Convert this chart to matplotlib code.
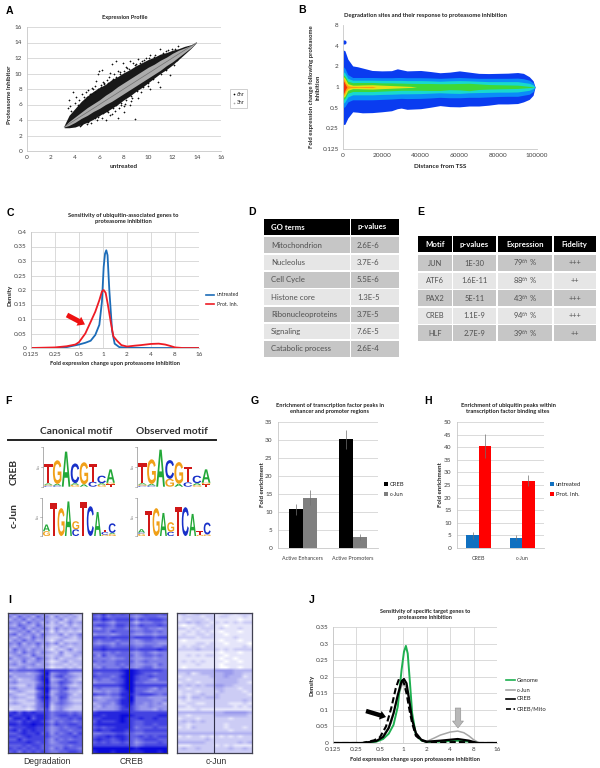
import numpy as np
import matplotlib
matplotlib.use("Agg")
import matplotlib.pyplot as plt
from matplotlib.colors import LinearSegmentedColormap
from matplotlib.patches import Rectangle, PathPatch, FancyArrow
from matplotlib.textpath import TextPath
from matplotlib.font_manager import FontProperties
from matplotlib.transforms import Affine2D

plt.rcParams['font.family'] = ['Lato', 'DejaVu Sans']

# A: expression scatter
a_band_x = [3.1, 3.5, 4, 4.5, 5, 5.5, 6, 6.5, 7, 7.5, 8, 8.5, 9, 9.5, 10, 10.5, 11, 11.5, 12, 12.5, 13, 13.5, 14]
a_black_up = [3.3, 4.6, 5.5, 6.4, 7.1, 7.7, 8.2, 8.6, 9.2, 9.6, 10.1, 10.5, 11.0, 11.4, 11.8, 12.1, 12.5, 12.7, 13.0, 13.2, 13.5, 13.7, 14]
a_black_lo = [3.0, 3.0, 3.1, 3.4, 3.7, 4.1, 4.6, 5.0, 5.5, 6.0, 6.6, 7.1, 7.7, 8.2, 8.8, 9.4, 10.0, 10.5, 11.1, 11.8, 12.5, 13.2, 14]
a_grey_up = [3.2, 3.8, 4.4, 5.0, 5.6, 6.1, 6.6, 7.2, 7.7, 8.3, 8.8, 9.3, 9.8, 10.3, 10.8, 11.2, 11.7, 12.1, 12.6, 13.0, 13.3, 13.6, 14]
a_grey_lo = [3.1, 3.3, 3.7, 4.2, 4.6, 5.1, 5.5, 6.0, 6.4, 6.9, 7.4, 7.9, 8.4, 8.9, 9.4, 9.9, 10.4, 11.0, 11.5, 12.1, 12.7, 13.3, 14]
a_out_x = [3.4, 3.5, 3.8, 4.1, 4.3, 4.6, 4.9, 5.1, 5.4, 5.6, 5.7, 5.9, 6.0, 6.2, 6.3, 6.6, 6.9, 7.0, 7.4, 7.5, 7.9, 8.2, 8.5,
           8.8, 9.2, 9.8, 10.2, 10.5, 11.0, 11.5, 12.0, 12.5, 4.4, 5.0, 5.8, 6.2, 6.5, 7.0, 7.5, 8.0, 8.9, 8.5, 8.0, 9.2,
           10.2, 11.0, 10.8, 11.8, 4.7, 5.2, 5.5, 6.1, 6.4, 6.8, 7.2, 7.7, 8.3, 9.0, 9.5, 5.3, 5.9, 6.7, 7.3, 7.8, 8.6,
           9.4, 10.0, 4.2, 3.7, 3.6, 4.0, 4.5, 6.9, 7.6, 8.1, 8.7,
           4.8, 5.0, 5.3, 5.6, 5.9, 6.1, 6.4, 6.7, 7.1, 7.4, 7.7, 8.0, 8.4, 8.9, 9.3, 9.7, 10.1, 10.6, 11.2, 11.6, 12.2,
           4.6, 5.1, 5.6, 6.0, 6.3, 6.6, 7.1, 7.4, 7.8, 8.2, 8.6, 9.1, 9.6, 10.0, 10.4, 11.1, 11.5, 12.1, 12.4]
a_out_y = [5.5, 6.6, 7.6, 7.0, 6.6, 7.3, 7.6, 7.9, 8.1, 8.4, 9.0, 9.9, 10.3, 10.5, 8.9, 9.2, 10.1, 11.2, 11.6, 10.3, 11.4, 10.9, 11.6,
           11.4, 11.9, 12.0, 12.4, 12.1, 13.2, 12.9, 13.2, 13.5, 3.2, 3.5, 4.0, 4.3, 4.0, 4.8, 4.2, 5.0, 4.1, 6.0, 5.8, 6.8,
           8.0, 8.3, 8.9, 9.8, 7.0, 7.3, 8.0, 8.5, 8.8, 9.5, 10.0, 10.2, 10.7, 11.2, 11.6, 3.6, 4.4, 5.0, 5.2, 5.9, 6.4,
           7.6, 8.4, 5.9, 5.2, 5.8, 6.2, 3.3, 4.6, 5.6, 6.1, 6.9,
           6.6, 7.0, 7.4, 7.6, 8.0, 8.2, 8.6, 8.8, 9.3, 9.6, 10.0, 10.3, 10.6, 11.1, 11.4, 11.8, 12.0, 12.4, 12.7, 13.0, 13.2,
           3.5, 3.8, 4.2, 4.7, 4.9, 5.1, 5.6, 5.9, 6.2, 6.6, 7.1, 7.7, 8.2, 8.8, 9.3, 10.0, 10.4, 11.1, 11.7]

# B: nested density envelopes, log2 fold change against distance
b_x = [0, 1000, 2500, 5000, 7500, 10000, 15000, 20000, 25000, 28000, 30000, 33000, 40000, 45000, 50000, 55000, 60000, 65000,
       70000, 75000, 80000, 85000, 90000, 93000, 96000, 98000, 99000]
b_blue_up = [1.8, 1.75, 1.35, 1.02, 0.98, 0.92, 0.8, 0.78, 0.79, 0.88, 0.84, 0.78, 0.8, 0.75, 0.69, 0.72, 0.78, 0.72, 0.66, 0.65, 0.66,
             0.67, 0.7, 0.66, 0.5, 0.3, 0]
b_blue_lo = [-1.82, -1.8, -1.5, -1.2, -1.22, -1.25, -1.24, -1.2, -1.15, -1.05, -1.02, -1.08, -1.05, -0.98, -0.9, -0.95, -0.96, -0.92,
             -0.92, -0.88, -0.82, -0.82, -0.8, -0.72, -0.6, -0.4, 0]
b_azure_up = [1.0, 0.9, 0.6, 0.46, 0.46, 0.46, 0.46, 0.45, 0.45, 0.46, 0.46, 0.45, 0.45, 0.44, 0.42, 0.44, 0.46, 0.44, 0.42, 0.42, 0.42,
              0.42, 0.43, 0.4, 0.33, 0.2, 0]
b_azure_lo = [-1.0, -0.95, -0.72, -0.62, -0.62, -0.62, -0.62, -0.6, -0.58, -0.56, -0.55, -0.56, -0.55, -0.53, -0.5, -0.52, -0.52, -0.5,
              -0.5, -0.48, -0.46, -0.45, -0.45, -0.4, -0.35, -0.22, 0]
b_cyan_up = [0.75, 0.68, 0.42, 0.33, 0.33, 0.33, 0.33, 0.32, 0.32, 0.32, 0.32, 0.31, 0.31, 0.3, 0.28, 0.3, 0.31, 0.3, 0.28, 0.26, 0.26,
             0.26, 0.26, 0.22, 0.18, 0.1, 0]
b_cyan_lo = [-0.8, -0.72, -0.48, -0.38, -0.38, -0.38, -0.38, -0.36, -0.35, -0.34, -0.33, -0.33, -0.32, -0.3, -0.28, -0.3, -0.31, -0.28,
             -0.27, -0.26, -0.25, -0.25, -0.24, -0.2, -0.16, -0.08, 0]
b_green_up = [0.6, 0.52, 0.28, 0.21, 0.22, 0.22, 0.22, 0.2, 0.2, 0.19, 0.19, 0.18, 0.17, 0.17, 0.16, 0.16, 0.17, 0.18, 0.15, 0.12, 0.11,
              0.1, 0.09, 0.06, 0.03, 0.01, 0]
b_green_lo = [-0.62, -0.55, -0.3, -0.22, -0.22, -0.22, -0.22, -0.2, -0.18, -0.17, -0.16, -0.16, -0.16, -0.17, -0.17, -0.13, -0.14, -0.18,
              -0.12, -0.1, -0.09, -0.08, -0.07, -0.05, -0.03, -0.01, 0]
b_yellow_x = [0, 1000, 2500, 5000, 7500, 10000, 15000, 20000, 25000, 30000, 35000, 38000]
b_yellow_up = [0.52, 0.42, 0.16, 0.09, 0.09, 0.1, 0.11, 0.09, 0.07, 0.05, 0.03, 0]
b_yellow_lo = [-0.52, -0.44, -0.16, -0.08, -0.08, -0.09, -0.1, -0.08, -0.06, -0.04, -0.02, 0]
b_orange_x = [0, 800, 1500, 2500, 4000, 8000, 15000, 17000]
b_orange_up = [0.45, 0.33, 0.18, 0.07, 0.03, 0.02, 0.03, 0]
b_orange_lo = [-0.45, -0.35, -0.18, -0.07, -0.03, -0.02, -0.03, 0]
b_red_x = [0, 500, 1000, 1500, 2000]
b_red_up = [0.32, 0.26, 0.16, 0.07, 0]
b_red_lo = [-0.34, -0.28, -0.16, -0.07, 0]

# C and J density curves
fold_ticks = [0.125, 0.25, 0.5, 1, 2, 4, 8, 16]
fold_labels = ['0.125', '0.25', '0.5', '1', '2', '4', '8', '16']
c_blue_x = [0.125, 0.25, 0.35, 0.5, 0.6, 0.7, 0.8, 0.9, 0.97, 1.02, 1.06, 1.1, 1.14, 1.2, 1.3, 1.4, 1.6, 2, 4, 16]
c_blue_y = [0, 0, 0.003, 0.012, 0.018, 0.025, 0.045, 0.08, 0.16, 0.28, 0.325, 0.337, 0.32, 0.2, 0.06, 0.015, 0.003, 0.001, 0, 0]
c_red_x = [0.125, 0.25, 0.35, 0.45, 0.5, 0.6, 0.7, 0.8, 0.9, 0.97, 1.02, 1.08, 1.15, 1.25, 1.35, 1.5, 1.7, 2, 2.5, 3, 4, 5, 6, 7, 8, 10, 16]
c_red_y = [0, 0.002, 0.006, 0.012, 0.02, 0.05, 0.09, 0.125, 0.165, 0.195, 0.2, 0.19, 0.15, 0.09, 0.04, 0.025, 0.01, 0.005, 0.008, 0.01,
           0.014, 0.015, 0.012, 0.007, 0.002, 0, 0]
j_green_x = [0.125, 0.3, 0.45, 0.55, 0.65, 0.75, 0.85, 0.95, 1.02, 1.08, 1.14, 1.22, 1.3, 1.45, 1.7, 2, 3, 5, 7, 9, 16]
j_green_y = [0, 0, 0.004, 0.012, 0.028, 0.055, 0.11, 0.22, 0.275, 0.293, 0.27, 0.18, 0.09, 0.025, 0.008, 0.003, 0.004, 0.007, 0.004, 0, 0]
j_grey_x = [0.125, 0.3, 0.5, 0.7, 0.85, 1, 1.15, 1.3, 1.5, 1.7, 2, 2.5, 3, 4, 5, 6, 7, 8, 9.5, 16]
j_grey_y = [0, 0, 0.008, 0.06, 0.14, 0.185, 0.15, 0.07, 0.02, 0.008, 0.005, 0.015, 0.024, 0.033, 0.036, 0.031, 0.021, 0.01, 0, 0]
j_black_x = [0.125, 0.3, 0.45, 0.55, 0.65, 0.75, 0.85, 0.95, 1.02, 1.1, 1.2, 1.3, 1.45, 1.7, 2, 3, 5, 7, 9, 16]
j_black_y = [0, 0, 0.006, 0.018, 0.045, 0.09, 0.145, 0.185, 0.193, 0.18, 0.125, 0.07, 0.03, 0.01, 0.004, 0.007, 0.012, 0.007, 0, 0]
j_dash_x = [0.125, 0.3, 0.42, 0.5, 0.6, 0.7, 0.8, 0.88, 0.95, 1.02, 1.1, 1.2, 1.3, 1.45, 1.7, 2, 3, 5, 7, 9, 16]
j_dash_y = [0, 0, 0.008, 0.017, 0.05, 0.105, 0.165, 0.193, 0.192, 0.18, 0.15, 0.1, 0.06, 0.022, 0.008, 0.003, 0.002, 0.003, 0.002, 0, 0]

# D and E tables
go_terms = ['Mitochondrion', 'Nucleolus', 'Cell Cycle', 'Histone core', 'Ribonucleoproteins', 'Signaling', 'Catabolic process']
go_pvals = ['2.6E-6', '3.7E-6', '5.5E-6', '1.3E-5', '3.7E-5', '7.6E-5', '2.6E-4']
motif_names = ['JUN', 'ATF6', 'PAX2', 'CREB', 'HLF']
motif_pvals = ['1E-30', '1.6E-11', '5E-11', '1.1E-9', '2.7E-9']
motif_expr = ['79$^{th}$ %', '88$^{th}$ %', '43$^{th}$ %', '94$^{th}$ %', '39$^{th}$ %']
motif_fidelity = ['+++', '++', '+++', '+++', '++']

# F sequence logos, one stack per position, bottom letter first, heights in bits
creb_canon = [[('C', .05), ('G', .05), ('A', .07), ('T', 1.0)], [('C', .06), ('A', .08), ('G', 1.2)], [('A', 1.78)],
              [('G', .1), ('A', .08), ('C', 1.0)], [('A', .12), ('G', 1.12)], [('C', .25), ('T', .9)], [('G', .1), ('A', .08), ('C', .38)],
              [('T', .12), ('G', .08), ('A', .68)]]
creb_obs = [[('C', .05), ('G', .06), ('A', .07), ('T', 1.0)], [('C', .06), ('A', .08), ('G', 1.25)], [('A', 1.88)],
            [('G', .4), ('C', .95)], [('A', .15), ('G', 1.1)], [('C', .22), ('T', .8)], [('G', .08), ('A', .1), ('C', .38)],
            [('T', .12), ('G', .08), ('A', .68)]]
jun_canon = [[('G', .25), ('A', .35)], [('T', 1.7)], [('G', 1.45)], [('A', 1.8)], [('C', .35), ('G', .42)], [('T', 1.75)], [('C', 1.55)],
             [('A', 1.25)], [('G', .07), ('C', .14), ('T', .1)], [('G', .1), ('A', .06), ('C', .5)]]
jun_obs = [[('G', .12), ('C', .06), ('A', .18)], [('T', 1.32)], [('G', 1.45)], [('A', 1.2)], [('C', .22), ('G', .5)], [('T', 1.5)], [('C', 1.5)],
           [('A', 1.15)], [('G', .06), ('T', .2)], [('G', .08), ('C', .62)]]

# G and H bars
g_cats = ['Active Enhancers', 'Active Promoters']
g_creb = [10.8, 30.2]
g_creb_err = [1.5, 2.7]
g_jun = [14.0, 3.0]
g_jun_err = [2.0, 0.8]
h_cats = ['CREB', 'c-Jun']
h_untreated = [5.0, 4.0]
h_untreated_err = [1.3, 1.0]
h_prot = [40.5, 26.7]
h_prot_err = [4.7, 2.2]

# I heatmaps, each digit a shade from 0 (white) to 9 (full blue)
deg_rows = ['4635463534243523', '5364536452534342', '3546354543352432', '5453645352423534', '4365436432342423', '5546354552534343',
            '3454635341423232', '5635453643352435', '4354364532234324', '3546453431342223', '5463546453524343', '4354435342243233',
            '3645354431323523', '4536453543252334', '3454364432342243', '5345436542423332', '3436345431234233', '4534453442332323',
            '3345344431223232', '6566667887777666', '3444345794566433', '5344446884675543', '3423346893456432', '4533335794576534',
            '3322436784465323', '4533337895567443', '2343225793465332', '4322336783566423', '3433226894476333', '2322335784465322',
            '3432225683565433', '2223235682454322', '1222125572453222', '7868787775666565', '8778878875677676', '6887968875566767',
            '7768788764656656', '8878898875766776', '6777887764565667', '7868787764566566', '6678778674656757', '7767877775566676',
            '6686777764656566', '7777876764566776', '6667677665556566', '7676767664657665', '6757676765566776']
creb_rows = ['7686767665676667', '6575666654566655', '7687677775767776', '5565466653555665', '6776577665766676', '5465566554565545',
             '6665766665566565', '4555456654455455', '7776777767777677', '6566656654566555', '5455465554455544', '6676566665566556',
             '7787777776777787', '5565656654565455', '6475566664566565', '5555455654455455', '6565566664565555', '4555565654455465',
             '5465556554566455', '7777778998777776', '6566667998766566', '7666568997667666', '5655667997665466', '4555567996655555',
             '7777778997777777', '5655557996665465', '4454557896654555', '7665668886777656', '4344557895554444', '5445568895555445',
             '3455468885545453', '4354457875445444', '3444457775444354', '7888888877777777', '8878889987777788', '7788889877877877',
             '6877789876677777', '7888888876677677', '6767788875666766', '7877888776677777', '5566677665566666', '6778788766767677',
             '7877678765677766', '6767667664566676', '7777777765677777', '9999999998999999', '8999899988899989']
jun_rows = ['2312322211221222', '1222212212211121', '1212221211111011', '2232322121212122', '1011221211011111', '2212122212111211',
            '1121212110111011', '1211221211011111', '2222122211112111', '1011111110111011', '1111221211011110', '1212212211111121',
            '2222322221212222', '1111111110111011', '1121212211011111', '1111111110110111', '1212121111011011', '1111211110111111',
            '1011111110011011', '3333333344443333', '2231233333443322', '1222222333433312', '2212222233333222', '1222122233333221',
            '3232323344332222', '2212222233222122', '1222122223222212', '1212232232222221', '2313323332222222', '1212222222222232',
            '1122112222211121', '2212222222221212', '1111211111111111', '3333333333444443', '2212222233333332', '1222122222212222',
            '2323232222222222', '2212222222122222', '1213222222122212', '2222222222212222', '3333333333333333', '1212212121212122',
            '2222223222222222', '3333332222222323', '1112222212121111', '2322322222232232', '2222222222222222']
heat_titles = ['Degradation', 'CREB', 'c-Jun']

fig = plt.figure(figsize=(6, 7.68), dpi=100)
W, H = 600.0, 768.0
grey_txt = '#404040'


def px_axes(x0, y0, x1, y1):
    # axes from pixel box, y counted from the top of the image
    return fig.add_axes([x0 / W, 1 - y1 / H, (x1 - x0) / W, (y1 - y0) / H])


def style(ax, vgrid=False, lab=4.6, pad=3):
    for s in ['top', 'right']:
        ax.spines[s].set_visible(False)
    for s in ['left', 'bottom']:
        ax.spines[s].set_color('#c8c8c8')
        ax.spines[s].set_linewidth(0.6)
    ax.tick_params(length=0, labelsize=lab, labelcolor=grey_txt, pad=pad)
    ax.grid(axis='y', color='#d4d4d4', lw=0.6)
    if vgrid:
        ax.grid(axis='x', color='#d4d4d4', lw=0.6)
    ax.set_axisbelow(True)


ov = fig.add_axes([0, 0, 1, 1], zorder=20)
ov.set_xlim(0, W)
ov.set_ylim(H, 0)
ov.axis('off')
ov.patch.set_alpha(0)


def txt(x, y, s, size=4.6, weight='normal', color='#222222', rot=0, ha='center', fam=None):
    ov.text(x, y, s, fontsize=size, fontweight=weight, color=color, rotation=rot, ha=ha, va='center',
            family=fam if fam else ['Lato', 'DejaVu Sans'], linespacing=1.25)


# panel letters
letters = ['A', 'B', 'C', 'D', 'E', 'F', 'G', 'H', 'I', 'J']
letter_x = [10, 302, 10, 252, 421, 8, 255, 428, 10, 312]
letter_y = [11, 10, 213, 212, 212, 401, 401, 401, 600, 600]
for l, lx, ly in zip(letters, letter_x, letter_y):
    txt(lx, ly, l, size=7.6, weight='bold', color='black', fam=['Liberation Sans'])

# A
ax = px_axes(26.5, 27, 221, 151)
style(ax)
ax.fill_between(a_band_x, a_black_lo, a_black_up, color='#181818', lw=0)
ax.fill_between(a_band_x, a_grey_lo, a_grey_up, color='#ababab', lw=0)
ax.plot([3.1, 14], [3.1, 14], color='#707070', lw=0.5)
ax.scatter(a_out_x, a_out_y, s=1.2, marker='D', color='#111111', lw=0)
ax.set_xlim(0, 16)
ax.set_ylim(0, 16)
ax.set_xticks(range(0, 17, 2))
ax.set_yticks(range(0, 17, 2))
txt(125, 18, 'Expression Profile', weight='bold', size=4.1)
txt(124, 167, 'untreated', weight='bold', size=4.6)
txt(10, 95, 'Proteasome Inhibitor', weight='bold', rot=90, size=4.4)
ov.add_patch(Rectangle((229.5, 89), 17.5, 19, fc='white', ec='#c8c8c8', lw=0.6))
ov.scatter([234], [94], s=1.5, color='black', lw=0)
ov.scatter([234], [103], s=1.5, color='#a8a8a8', lw=0)
txt(236.5, 94, '6hr', size=3.6, ha='left')
txt(236.5, 103, '3hr', size=3.6, ha='left')

# B
ax = px_axes(343, 25, 537, 149)
ax.fill_between(b_x, b_blue_lo, b_blue_up, color='#0a3cf0', lw=0)
ax.fill_between(b_x, b_azure_lo, b_azure_up, color='#0a8cf8', lw=0)
ax.fill_between(b_x, b_cyan_lo, b_cyan_up, color='#18d8d0', lw=0)
ax.fill_between(b_x, b_green_lo, b_green_up, color='#3ed838', lw=0)
ax.fill_between(b_yellow_x, b_yellow_lo, b_yellow_up, color='#e8e018', lw=0)
ax.fill_between(b_orange_x, b_orange_lo, b_orange_up, color='#ff9a10', lw=0)
ax.fill_between(b_red_x, b_red_lo, b_red_up, color='#f03010', lw=0)
ax.scatter([600], [2.2], s=9, color='#0a3cf0', lw=0)
ax.set_xlim(0, 100000)
ax.set_ylim(-3, 3)
ax.set_yticks([-3, -2, -1, 0, 1, 2, 3])
ax.set_yticklabels(['0.125', '0.25', '0.5', '1', '2', '4', '8'])
ax.set_xticks(range(0, 100001, 20000))
style(ax)
ax.grid(False)
txt(426, 16, 'Degradation sites and their response to proteasome inhibition', weight='bold', size=4.2)
txt(440, 166, 'Distance from TSS', weight='bold', size=4.6)
txt(315, 87, 'Fold expression change following proteasome\ninhibition', weight='bold', rot=90, size=4.3)


def fold_axis(ax):
    ax.set_xscale('log', base=2)
    ax.set_xlim(0.125, 16)
    ax.set_xticks(fold_ticks)
    ax.set_xticklabels(fold_labels)
    ax.minorticks_off()
    style(ax, vgrid=True)


# C
ax = px_axes(31, 232, 199, 348)
ax.plot(c_blue_x, c_blue_y, color='#1c6cb8', lw=1.3)
ax.plot(c_red_x, c_red_y, color='#ee1c25', lw=1.3)
fold_axis(ax)
ax.set_ylim(0, 0.4)
ax.set_yticks(np.arange(0, 0.41, 0.05))
ax.set_yticklabels(['0', '0.05', '0.1', '0.15', '0.2', '0.25', '0.3', '0.35', '0.4'])
txt(123, 218, 'Sensitivity of ubiquitin-associated genes to\nproteasome inhibition', weight='bold', size=4.15)
txt(115, 364, 'Fold expression change upon proteasome inhibition', weight='bold', size=4.1)
txt(10, 295, 'Density', weight='bold', rot=90, size=4.4)
ov.plot([206, 214], [294.5, 294.5], color='#1c6cb8', lw=1.2)
ov.plot([206, 214], [304, 304], color='#ee1c25', lw=1.2)
txt(217, 294.5, 'untreated', size=3.7, ha='left')
txt(217, 304, 'Prot. Inh.', size=3.7, ha='left')
ov.add_patch(FancyArrow(67, 315, 18, 9.5, width=5, head_width=10, head_length=7, length_includes_head=True, color='#ee1111', lw=0))

# D
d_cols = [(264, 349.5), (351, 399)]
ov.add_patch(Rectangle((264, 219), 85.5, 15.5, fc='black', lw=0))
ov.add_patch(Rectangle((351, 219), 48, 15.5, fc='black', lw=0))
txt(271, 227, 'GO terms', size=5.6, weight='bold', color='white', ha='left')
txt(357, 227, 'p-values', size=5.6, weight='bold', color='white', ha='left')
for i, (term, pv) in enumerate(zip(go_terms, go_pvals)):
    top = 237.3 + i * 17.3
    shade = '#c6c6c6' if i % 2 == 0 else '#e6e6e6'
    for c0, c1 in d_cols:
        ov.add_patch(Rectangle((c0, top), c1 - c0, 15.6, fc=shade, lw=0))
    txt(271, top + 7.8, term, size=5.6, ha='left', color='#505050')
    txt(357, top + 7.8, pv, size=5.6, ha='left', color='#505050')

# E
e_cols = [(418, 451.5), (453, 496), (497.5, 552), (553.5, 596)]
e_heads = ['Motif', 'p-values', 'Expression', 'Fidelity']
for (c0, c1), head in zip(e_cols, e_heads):
    ov.add_patch(Rectangle((c0, 236), c1 - c0, 16, fc='black', lw=0))
    txt((c0 + c1) / 2, 244.5, head, size=5.6, weight='bold', color='white')
for i, row in enumerate(zip(motif_names, motif_pvals, motif_expr, motif_fidelity)):
    top = 255 + i * 17.6
    shade = '#c6c6c6' if i % 2 == 0 else '#e6e6e6'
    for (c0, c1), val in zip(e_cols, row):
        ov.add_patch(Rectangle((c0, top), c1 - c0, 16, fc=shade, lw=0))
        txt((c0 + c1) / 2, top + 8, val, size=5.4, color='#505050')

# F
logo_colors = {'A': '#22a838', 'C': '#1830c8', 'G': '#f0a018', 'T': '#d01818'}
logo_font = FontProperties(family='Liberation Sans', weight='bold')


def draw_logo(stacks, x0, width, base_y, px_per_bit):
    for k, stack in enumerate(stacks):
        bottom = base_y
        for letter, bits in stack:
            tp = TextPath((0, 0), letter, size=10, prop=logo_font)
            bb = tp.get_extents()
            h = bits * px_per_bit
            # y axis of the overlay is flipped, so scale y negative
            tr = Affine2D().translate(-bb.x0, -bb.y0).scale(width * 0.96 / bb.width, -h / bb.height).translate(x0 + k * width, bottom)
            ov.add_patch(PathPatch(tp.transformed(tr), fc=logo_colors[letter], lw=0))
            bottom -= h
    ax_x = x0 - 1.5
    ov.plot([ax_x, ax_x], [base_y, base_y - 2 * px_per_bit], color='#909090', lw=0.5)
    for b in [0, 1, 2]:
        ov.plot([ax_x - 1.5, ax_x], [base_y - b * px_per_bit] * 2, color='#909090', lw=0.4)
    txt(ax_x - 3.5, base_y - px_per_bit, 'bits', size=2.2, rot=90, color='#707070')


txt(76, 431, 'Canonical motif', size=7.4, weight='bold', color='#303030')
txt(172, 431, 'Observed motif', size=7.4, weight='bold', color='#303030')
ov.plot([8, 216], [440, 440], color='#222222', lw=1.4)
txt(14, 472, 'CREB', size=7.4, weight='bold', rot=90, color='#303030')
txt(14, 515, 'c-Jun', size=7.4, weight='bold', rot=90, color='#303030')
draw_logo(creb_canon, 44, 8.9, 486.7, 19.7)
draw_logo(creb_obs, 138, 9.1, 486.7, 19.7)
draw_logo(jun_canon, 43, 7.3, 536, 19.2)
draw_logo(jun_obs, 138, 7.3, 536, 19.2)

# G
ax = px_axes(278, 422, 378, 548)
pos = np.arange(2)
ax.bar(pos - 0.14, g_creb, 0.28, color='black', yerr=g_creb_err, error_kw=dict(ecolor='#707070', lw=0.5))
ax.bar(pos + 0.14, g_jun, 0.28, color='#7f7f7f', yerr=g_jun_err, error_kw=dict(ecolor='#707070', lw=0.5))
ax.set_xlim(-0.5, 1.5)
ax.set_ylim(0, 35)
ax.set_yticks(range(0, 36, 5))
ax.set_xticks(pos)
ax.set_xticklabels(g_cats)
style(ax, pad=4)
ax.tick_params(axis='x', labelsize=3.9, pad=6)
txt(330, 409, 'Enrichment of transcription factor peaks in\nenhancer and promoter regions', weight='bold', size=4.05)
txt(263, 485, 'Fold enrichment', weight='bold', rot=90, size=4.4)
ov.add_patch(Rectangle((384, 482), 4, 4, fc='black', lw=0))
ov.add_patch(Rectangle((384, 492), 4, 4, fc='#7f7f7f', lw=0))
txt(390, 484, 'CREB', size=4.2, ha='left')
txt(390, 494, 'c-Jun', size=4.2, ha='left')

# H
ax = px_axes(457, 422, 544, 548)
ax.bar(pos - 0.143, h_untreated, 0.286, color='#1070c0', yerr=h_untreated_err, error_kw=dict(ecolor='#707070', lw=0.5))
ax.bar(pos + 0.143, h_prot, 0.286, color='#ff0000', yerr=h_prot_err, error_kw=dict(ecolor='#707070', lw=0.5))
ax.set_xlim(-0.5, 1.5)
ax.set_ylim(0, 50)
ax.set_yticks(range(0, 51, 5))
ax.set_xticks(pos)
ax.set_xticklabels(h_cats)
style(ax, pad=4)
ax.tick_params(axis='x', labelsize=3.9, pad=6)
txt(508, 409, 'Enrichment of ubiquitin peaks within\ntranscription factor binding sites', weight='bold', size=4.15)
txt(441, 485, 'Fold enrichment', weight='bold', rot=90, size=4.4)
ov.add_patch(Rectangle((550, 482), 4, 4, fc='#1070c0', lw=0))
ov.add_patch(Rectangle((550, 492), 4, 4, fc='#ff0000', lw=0))
txt(556, 484, 'untreated', size=4.2, ha='left')
txt(556, 494, 'Prot. Inh.', size=4.2, ha='left')

# I
heat_cmap = LinearSegmentedColormap.from_list('heat', ['#ffffff', '#8c8cea', '#0a0ada'])
heat_boxes = [(7.5, 81.5, 44.5), (92, 167, 129.5), (176.5, 251.5, 214)]
for rows, (x0, x1, xc), name in zip([deg_rows, creb_rows, jun_rows], heat_boxes, heat_titles):
    mat = np.array([[int(c) for c in r] for r in rows])
    ax = px_axes(x0, 612.5, x1, 753)
    ax.imshow(mat, cmap=heat_cmap, vmin=0, vmax=9, aspect='auto', interpolation='bilinear')
    ax.set_xticks([])
    ax.set_yticks([])
    for s in ax.spines.values():
        s.set_color('#404050')
        s.set_linewidth(0.9)
    ax.axvline(7.4, color='#303048', lw=0.8)
    txt(xc + 2, 761.5, name, size=6.2, color='#303030', fam=['Liberation Sans'])

# J
ax = px_axes(333, 627, 497, 743)
ax.plot(j_grey_x, j_grey_y, color='#a6a6a6', lw=1.1)
ax.plot(j_green_x, j_green_y, color='#1eb050', lw=1.4)
ax.plot(j_black_x, j_black_y, color='black', lw=1.6)
ax.plot(j_dash_x, j_dash_y, color='black', lw=1.5, ls=(0, (3, 1.5)))
fold_axis(ax)
ax.set_ylim(0, 0.35)
ax.set_yticks(np.arange(0, 0.36, 0.05))
ax.set_yticklabels(['0', '0.05', '0.1', '0.15', '0.2', '0.25', '0.3', '0.35'])
txt(425, 614, 'Sensitivity of specific target genes to\nproteasome inhibition', weight='bold', size=4.0)
txt(415, 759.5, 'Fold expression change upon proteasome inhibition', weight='bold', size=4.1)
txt(312, 685, 'Density', weight='bold', rot=90, size=4.4)
j_names = ['Genome', 'c-Jun', 'CREB', 'CREB/Mito']
j_leg_y = [680, 690, 699, 709]
j_leg_c = ['#1eb050', '#a6a6a6', 'black', 'black']
j_leg_ls = ['-', '-', '-', (0, (3, 1.5))]
for name, ly, c, ls in zip(j_names, j_leg_y, j_leg_c, j_leg_ls):
    ov.plot([506, 515], [ly, ly], color=c, ls=ls, lw=1.2)
    txt(517, ly, name, size=4.2, ha='left')
ov.add_patch(FancyArrow(366, 711, 20, 6, width=4.5, head_width=9, head_length=6, length_includes_head=True, color='black', lw=0))
ov.add_patch(FancyArrow(458, 708, 0, 20, width=5.5, head_width=11, head_length=7, length_includes_head=True, fc='#b8b8b8', ec='#909090', lw=0.4))

fig.savefig('out.png', dpi=100)
